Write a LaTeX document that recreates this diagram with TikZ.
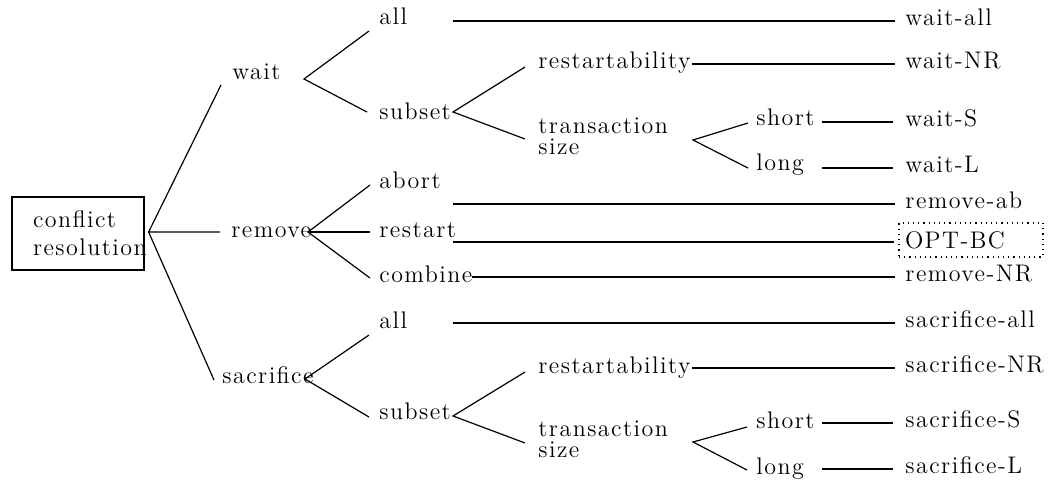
\documentclass[tikz,border=0pt]{standalone}
\usepackage{fontspec}
\usetikzlibrary{calc}
\newfontfamily\lblface{Latin Modern Roman}[LetterSpace=6]
\newcommand\lblfont{\lblface\fontsize{12}{14}\selectfont}
\newcommand\stackfont{\lblface\fontsize{12}{10.5}\selectfont}
\tikzset{
  lbl/.style={anchor=base west, inner sep=0pt, font=\lblfont},
  twoline/.style={lbl, align=left, font=\stackfont},
  branch/.style={line width=0.6pt},
  rootbox/.style={draw, line width=0.6pt, minimum width=66pt, minimum height=36.5pt,
    text width=45pt, inner xsep=10.5pt, inner ysep=0pt, align=left, font=\lblfont},
  optbox/.style={draw, dotted, line width=0.6pt, minimum width=72pt, minimum height=17pt,
    text width=66pt, inner xsep=3pt, inner ysep=0pt, align=left, font=\lblfont},
}
\begin{document}
\begin{tikzpicture}[x=0.5pt,y=-0.5pt]
\useasboundingbox (0,0) rectangle (1053,483);

% root
\node[rootbox] (root) at (78,233.5) {conflict\\resolution};

% first level
\node[lbl] (wait) at (232,79) {wait};
\node[lbl] (remove) at (231,237) {remove};
\node[lbl] (sacrifice) at (222,383) {sacrifice};

% wait branch (two-line labels are placed by their last baseline)
\node[lbl] (wall) at (379,24) {all};
\node[lbl] (wsub) at (379,119) {subset};
\node[lbl] (wres) at (538,68) {restartability};
\node[twoline] (wtr) at (538,154) {transaction\\size};
\node[lbl] (wsh) at (756,125) {short};
\node[lbl] (wlo) at (756,170) {long};

% remove branch
\node[lbl] (rab) at (379,188) {abort};
\node[lbl] (rre) at (379,237) {restart};
\node[lbl] (rco) at (379,282) {combine};

% sacrifice branch
\node[lbl] (sall) at (379,328) {all};
\node[lbl] (ssub) at (379,419) {subset};
\node[lbl] (sres) at (538,373) {restartability};
\node[twoline] (str) at (538,457) {transaction\\size};
\node[lbl] (ssh) at (756,428) {short};
\node[lbl] (slo) at (756,474) {long};

% outcomes
\node[lbl] (owall) at (905,25) {wait-all};
\node[lbl] (ownr) at (905,68) {wait-NR};
\node[lbl] (ows) at (905,126) {wait-S};
\node[lbl] (owl) at (905,172) {wait-L};
\node[lbl] (orab) at (905,208) {remove-ab};
\node[optbox] (oopt) at (971,240) {OPT-BC};
\node[lbl] (ornr) at (905,281) {remove-NR};
\node[lbl] (osall) at (905,327) {sacrifice-all};
\node[lbl] (osnr) at (905,372) {sacrifice-NR};
\node[lbl] (oss) at (905,427) {sacrifice-S};
\node[lbl] (osl) at (905,473) {sacrifice-L};

% root fork
\coordinate (r0) at ($(root.east)+(4,-1.5)$);
\draw[branch] ($(wait.base west)+(-11,6)$) -- (r0) -- ($(remove.base west)+(-11,-5)$);
\draw[branch] (r0) -- ($(sacrifice.base west)+(-8,-3)$);

% wait fork
\draw[branch] ($(wall.base west)+(-10,7)$) -- ($(wait.base west)+(72,0)$) -- ($(wsub.base west)+(-12,-7)$);
\draw[branch] ($(wres.base west)+(-13,-1)$) -- ($(wsub.base west)+(74,-7)$) -- ($(wtr.base west)+(-13,-15)$);
\draw[branch] ($(wsh.base west)+(-8,-2)$) -- ($(wtr.base west)+(155,-14)$) -- ($(wlo.base west)+(-8,-2)$);

% remove fork
\coordinate (m0) at ($(remove.base west)+(77,-5)$);
\draw[branch] ($(rab.base west)+(-9,-3)$) -- (m0) -- ($(rco.base west)+(-9,-4)$);
\draw[branch] (m0) -- ($(rre.base west)+(-9,-5)$);

% sacrifice fork
\draw[branch] ($(sall.base west)+(-10,7)$) -- ($(sacrifice.base west)+(83,-4)$) -- ($(ssub.base west)+(-10,-2)$);
\draw[branch] ($(sres.base west)+(-13,-1)$) -- ($(ssub.base west)+(74,-3)$) -- ($(str.base west)+(-13,-14)$);
\draw[branch] ($(ssh.base west)+(-9,-1)$) -- ($(str.base west)+(155,-15)$) -- ($(slo.base west)+(-9,-4)$);

% leaves to outcomes
\draw[branch] ($(wall.base west)+(74,-3)$) -- ($(owall.base west)+(-10,-4)$);
\draw[branch] ($(wres.base west)+(154,-4)$) -- ($(ownr.base west)+(-10,-4)$);
\draw[branch] ($(wsh.base west)+(66,-3)$) -- ($(ows.base west)+(-12,-4)$);
\draw[branch] ($(wlo.base west)+(66,-2)$) -- ($(owl.base west)+(-12,-4)$);
\draw[branch] ($(rab.base west)+(74,16)$) -- ($(orab.base west)+(-10,-4)$);
\draw[branch] ($(rre.base west)+(74,5)$) -- ($(oopt.west)+(-4,2)$);
\draw[branch] ($(rco.base west)+(93,-5)$) -- ($(ornr.base west)+(-10,-4)$);
\draw[branch] ($(sall.base west)+(74,-5)$) -- ($(osall.base west)+(-10,-4)$);
\draw[branch] ($(sres.base west)+(154,-5)$) -- ($(osnr.base west)+(-10,-4)$);
\draw[branch] ($(ssh.base west)+(66,-5)$) -- ($(oss.base west)+(-12,-4)$);
\draw[branch] ($(slo.base west)+(66,-5)$) -- ($(osl.base west)+(-12,-4)$);
\end{tikzpicture}
\end{document}
